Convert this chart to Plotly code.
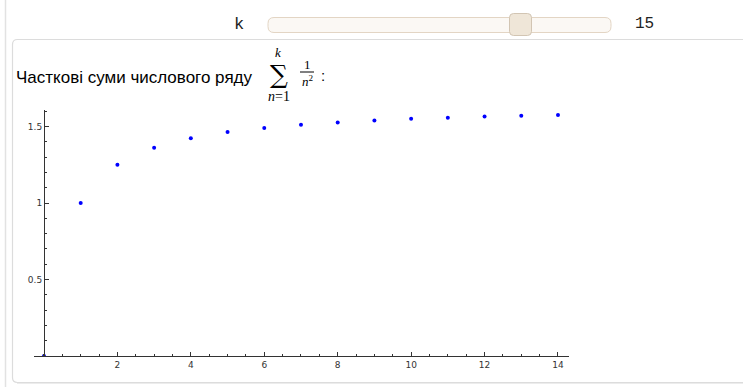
import plotly.graph_objects as go

W, H = 743, 387

# Data: partial sums S_k of 1/n^2
k_values = [0, 1, 2, 3, 4, 5, 6, 7, 8, 9, 10, 11, 12, 13, 14]
partial_sums = [0.0, 1.0, 1.25, 1.361, 1.424, 1.464, 1.491, 1.512, 1.527,
                1.540, 1.550, 1.558, 1.565, 1.571, 1.576]
x_tick_vals = [2, 4, 6, 8, 10, 12, 14]
x_tick_text = ["2", "4", "6", "8", "10", "12", "14"]
y_tick_vals = [0.5, 1, 1.5]
y_tick_text = ["0.5", "1", "1.5"]
slider_label = "k"
slider_value = "15"
title_text = "Часткові суми числового ряду"

def px(x):
    return x / W

def py(y):
    return 1 - y / H

# plot area in pixels
PL, PR, PT, PB = 34, 569, 110, 356
X0_PIX = 44
x_range = [-0.272, 14.3]
y_range = [0, 1.608]

axis_col = "#333333"
tick_font = dict(family="DejaVu Sans", size=9, color="#333333")

fig = go.Figure()
fig.add_trace(go.Scatter(
    x=k_values, y=partial_sums, mode="markers",
    marker=dict(color="#0000ff", size=4, line=dict(width=0)),
    hoverinfo="x+y", showlegend=False,
))

def rrect(x0, y0, x1, y1, r):
    def P(x, y):
        return f"{px(x)},{py(y)}"
    return (f"M {P(x0 + r, y0)} L {P(x1 - r, y0)} Q {P(x1, y0)} {P(x1, y0 + r)} "
            f"L {P(x1, y1 - r)} Q {P(x1, y1)} {P(x1 - r, y1)} "
            f"L {P(x0 + r, y1)} Q {P(x0, y1)} {P(x0, y1 - r)} "
            f"L {P(x0, y0 + r)} Q {P(x0, y0)} {P(x0 + r, y0)} Z")

shapes = [
    dict(type="line", xref="paper", yref="paper", x0=px(5.5), x1=px(5.5), y0=py(0), y1=py(387),
         line=dict(color="#e2e2e2", width=1.5), layer="below"),
    dict(type="path", xref="paper", yref="paper", path=rrect(12.5, 39.5, 748, 382.5, 5),
         line=dict(color="#dcdcdc", width=1.2), fillcolor="white", layer="below"),
    dict(type="line", xref="paper", yref="paper", x0=px(17), x1=px(743), y0=py(383.5), y1=py(383.5),
         line=dict(color="#ececec", width=1.2), layer="below"),
    dict(type="path", xref="paper", yref="paper", path=rrect(268, 17.5, 611, 32.5, 6),
         line=dict(color="#e3d5c4", width=1), fillcolor="#fbf8f4", layer="above"),
    dict(type="path", xref="paper", yref="paper", path=rrect(509.5, 13.5, 531.5, 35.5, 4),
         line=dict(color="#d2c5b3", width=1), fillcolor="#efe6d8", layer="above"),
    dict(type="line", xref="paper", yref="paper", x0=px(300), x1=px(314), y0=py(72), y1=py(72),
         line=dict(color="black", width=1)),
]

serif = "Liberation Serif"
annotations = [
    dict(text=slider_label, x=px(239), y=py(24), xanchor="center", yanchor="middle",
         font=dict(family="Liberation Mono", size=17, color="#222")),
    dict(text=slider_value, x=px(644), y=py(24), xanchor="center", yanchor="middle",
         font=dict(family="Liberation Mono", size=16, color="#222")),
    dict(text=title_text, x=px(14), y=py(77), xanchor="left", yanchor="middle",
         font=dict(family="Liberation Sans", size=17, color="black")),
    dict(text="∑", x=px(278.5), y=py(74), xanchor="center", yanchor="middle",
         font=dict(family="DejaVu Serif", size=25, color="black"), borderpad=0),
    dict(text="<i>k</i>", x=px(278), y=py(53), xanchor="center", yanchor="middle",
         font=dict(family=serif, size=13, color="black"), borderpad=0),
    dict(text="<i>n</i>=1", x=px(279), y=py(96), xanchor="center", yanchor="middle",
         font=dict(family=serif, size=14, color="black"), borderpad=0),
    dict(text="1", x=px(307), y=py(64), xanchor="center", yanchor="middle",
         font=dict(family=serif, size=13, color="black"), borderpad=0),
    dict(text="<i>n</i><sup>2</sup>", x=px(307.5), y=py(81), xanchor="center", yanchor="middle",
         font=dict(family=serif, size=13, color="black"), borderpad=0),
    dict(text=":", x=px(323), y=py(76), xanchor="center", yanchor="middle",
         font=dict(family="Liberation Sans", size=15, color="black"), borderpad=0),
]
for a in annotations:
    a.update(xref="paper", yref="paper", showarrow=False)

fig.update_layout(
    width=W, height=H,
    margin=dict(l=0, r=0, t=0, b=0),
    paper_bgcolor="white", plot_bgcolor="rgba(0,0,0,0)",
    shapes=shapes, annotations=annotations,
    xaxis=dict(
        domain=[px(PL), px(PR)], range=x_range, anchor="y",
        showgrid=False, zeroline=False, showline=True, linecolor=axis_col, linewidth=1,
        tickmode="array", tickvals=x_tick_vals, ticktext=x_tick_text,
        ticks="inside", ticklen=4, tickcolor=axis_col, tickwidth=1,
        tickfont=tick_font, automargin=False,
        minor=dict(tickmode="linear", tick0=0, dtick=0.5, ticks="inside", ticklen=2,
                   tickcolor=axis_col, tickwidth=1, showgrid=False),
    ),
    yaxis=dict(
        domain=[py(PB), py(PT)], range=y_range, anchor="free", position=px(X0_PIX),
        showgrid=False, zeroline=False, showline=True, linecolor=axis_col, linewidth=1,
        tickmode="array", tickvals=y_tick_vals, ticktext=y_tick_text,
        ticks="inside", ticklen=4, tickcolor=axis_col, tickwidth=1,
        tickfont=tick_font, automargin=False,
        minor=dict(tickmode="linear", tick0=0, dtick=0.1, ticks="inside", ticklen=2,
                   tickcolor=axis_col, tickwidth=1, showgrid=False),
    ),
)

fig.write_html("out.html", config={"displayModeBar": False},
               post_script="document.body.style.margin='0';document.body.style.overflow='hidden';")
